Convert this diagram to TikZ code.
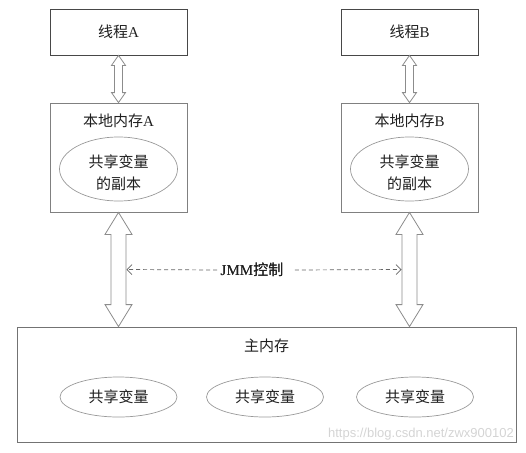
\documentclass[tikz,border=0pt]{standalone}
\usepackage{fontspec}
\setmainfont{Liberation Serif}
\newfontfamily\cjk{Noto Sans CJK SC}
\newfontfamily\urlfont{Liberation Sans}
\usetikzlibrary{positioning,calc,arrows.meta,shapes.geometric}
\newcommand\zh[1]{{\cjk #1}}
% hollow double arrow: from, to, half shaft, half head, head length
\newcommand\fatarrow[5]{\draw[fat] let \p1=(#1), \p2=(#2) in
  (\x1,\y1) -- (\x1+#4,\y1-#5) -- (\x1+#3,\y1-#5) -- (\x1+#3,\y2+#5) -- (\x1+#4,\y2+#5)
  -- (\x1,\y2) -- (\x1-#4,\y2+#5) -- (\x1-#3,\y2+#5) -- (\x1-#3,\y1-#5) -- (\x1-#4,\y1-#5) -- cycle;}
\tikzset{
  thread/.style={draw=black!72,line width=0.8pt,minimum width=137pt,minimum height=46pt,inner sep=0pt},
  local/.style={draw=black!50,line width=0.8pt,minimum width=137pt,minimum height=109pt,inner sep=0pt},
  mainbox/.style={draw=black!55,line width=0.8pt,minimum width=499pt,minimum height=115pt,inner sep=0pt},
  copy/.style={ellipse,draw=black!40,line width=0.7pt,minimum width=118pt,minimum height=64pt,inner sep=0pt,align=center},
  var/.style={ellipse,draw=black!40,line width=0.7pt,minimum width=117pt,minimum height=40pt,inner sep=0pt},
  fat/.style={draw=black!45,line width=0.8pt,fill=white},
  ctrl/.style={draw=black!60,line width=0.7pt,dash pattern=on 4pt off 3pt,-{Straight Barb[length=5pt,width=10pt]}}
}
\begin{document}
\begin{tikzpicture}[x=1pt,y=-1pt,font=\fontsize{15}{22}\selectfont,text=black!88]
  \useasboundingbox (0,0) rectangle (526,452);
  \foreach \s/\cx in {A/118.5,B/409.5} { % thread with its local memory
    \node[thread] (t\s) at (\cx,32) {\zh{线程}\s};
    \node[local] (l\s) at (\cx,157.5) {};
    \node[below=8pt of l\s.north] (n\s) {\zh{本地内存}\s};
    \node[copy] (c\s) at (\cx,169) {\rule{0pt}{21pt}\zh{共享变量}\\\zh{的副本}};
    \fatarrow{t\s.south}{l\s.north}{4pt}{7pt}{10pt}
  }
  \node[mainbox] (mm) at (266.5,384.5) {};
  \node[below=9pt of mm.north] (mt) {\zh{主内存}};
  \foreach \cx [count=\i] in {118.5,265,415} % shared variables
    \node[var] (v\i) at (\cx,397) {\zh{共享变量}};
  \foreach \s in {A,B}
    \fatarrow{l\s.south}{l\s.south |- mm.north}{7.5pt}{13.5pt}{22pt}
  \node (jmm) at (252,270) {JMM\zh{控制}};
  \coordinate (jl) at ($(lA.south)!.5!(lA.south |- mm.north)+(8,0)$);
  \coordinate (jr) at ($(lB.south)!.5!(lB.south |- mm.north)+(-8,0)$);
  \draw[ctrl] (jmm.west) -- (jl);
  \draw[ctrl] ([xshift=8pt]jmm.east) -- (jr);
  \node[anchor=south east,inner sep=0pt,text=black!17,font=\urlfont\fontsize{13}{13}\selectfont] (wm) at (514,440) {https://blog.csdn.net/zwx900102};
\end{tikzpicture}
\end{document}
